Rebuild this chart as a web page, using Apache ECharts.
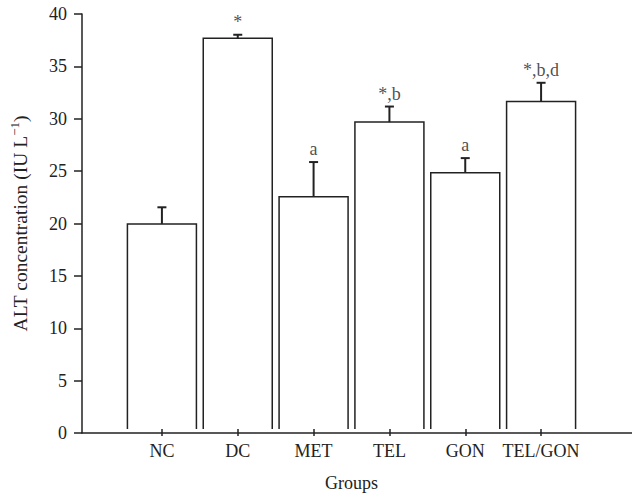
<!DOCTYPE html>
<html>
<head>
<meta charset="utf-8">
<script src="https://cdn.jsdelivr.net/npm/echarts@6/dist/echarts.min.js"></script>
<style>
html,body{margin:0;padding:0;background:#fff;}
#chart{width:632px;height:497px;}
</style>
</head>
<body>
<div id="chart"></div>
<script>
const categories = ['NC', 'DC', 'MET', 'TEL', 'GON', 'TEL/GON'];
const means = [19.77, 37.67, 22.39, 29.58, 24.71, 31.56];
const errTops = [21.37, 38.0, 25.73, 31.08, 26.11, 33.37];
const annotations = ['', '*', 'a', '*,b', 'a', '*,b,d'];
const yTicks = [0, 5, 10, 15, 20, 25, 30, 35, 40];

const FONT = '"Liberation Serif", "Times New Roman", serif';
const INK = '#222';
const FS = 18;
const BAR_W = 69;

const chart = echarts.init(document.getElementById('chart'), null, {renderer: 'svg'});

const barData = means.map((m, i) => [i, m]);
const errData = means.map((m, i) => [i, m, errTops[i]]);
const labelData = errTops.map((e, i) => [i, e]);

chart.setOption({
  animation: false,
  backgroundColor: '#fff',
  grid: [
    {left: 75, right: 0, top: 14, bottom: 64},
    {left: 124, width: 455, top: 14, bottom: 64}
  ],
  xAxis: [
    {
      gridIndex: 0, type: 'value', min: 0, max: 1,
      axisLine: {show: true, lineStyle: {color: INK, width: 1.5}},
      axisTick: {show: false}, axisLabel: {show: false}, splitLine: {show: false}
    },
    {
      gridIndex: 1, type: 'category', data: categories,
      axisLine: {show: false},
      axisTick: {show: true, alignWithLabel: true, length: 7, lineStyle: {color: INK, width: 1.5}},
      axisLabel: {interval: 0, fontFamily: FONT, fontSize: FS, color: INK, margin: 13},
      splitLine: {show: false},
      name: 'Groups', nameLocation: 'middle', nameGap: 45,
      nameTextStyle: {fontFamily: FONT, fontSize: FS, color: INK}
    }
  ],
  yAxis: [
    {
      gridIndex: 0, type: 'value', min: yTicks[0], max: yTicks[yTicks.length - 1], interval: 5,
      axisLine: {show: true, lineStyle: {color: INK, width: 1.5}},
      axisTick: {show: true, length: 8, lineStyle: {color: INK, width: 1.5}},
      axisLabel: {fontFamily: FONT, fontSize: FS, color: INK, margin: 15},
      splitLine: {show: false},
      name: '{n|ALT concentration (IU L}{s|−1}{n|)}', nameLocation: 'middle', nameGap: 52,
      nameTextStyle: {
        fontFamily: FONT, fontSize: 19.5, color: INK,
        rich: {
          n: {fontFamily: FONT, fontSize: 19.5, color: INK, lineHeight: 22, verticalAlign: 'bottom'},
          s: {fontFamily: FONT, fontSize: 13, color: INK, lineHeight: 22, verticalAlign: 'top'}
        }
      }
    },
    {
      gridIndex: 1, type: 'value', min: yTicks[0], max: yTicks[yTicks.length - 1], show: false
    }
  ],
  series: [
    {
      type: 'custom', xAxisIndex: 1, yAxisIndex: 1, data: barData, z: 3,
      renderItem: function (params, api) {
        const top = api.coord([api.value(0), api.value(1)]);
        const base = api.coord([api.value(0), 0]);
        const l = top[0] - BAR_W / 2, r = top[0] + BAR_W / 2;
        return {
          type: 'group',
          children: [
            {type: 'rect', shape: {x: l, y: top[1], width: BAR_W, height: base[1] - top[1]}, style: {fill: '#fff'}},
            {type: 'polyline', shape: {points: [[l, base[1]], [l, top[1]], [r, top[1]], [r, base[1]]]},
             style: {stroke: INK, lineWidth: 1.5, fill: null}}
          ]
        };
      }
    },
    {
      type: 'custom', xAxisIndex: 1, yAxisIndex: 1, data: errData, z: 5,
      renderItem: function (params, api) {
        const x = api.value(0);
        const p0 = api.coord([x, api.value(1)]);
        const p1 = api.coord([x, api.value(2)]);
        const hw = 4.5;
        return {
          type: 'group',
          children: [
            {type: 'line', shape: {x1: p0[0], y1: p0[1], x2: p1[0], y2: p1[1]}, style: {stroke: INK, lineWidth: 2}},
            {type: 'line', shape: {x1: p1[0] - hw, y1: p1[1], x2: p1[0] + hw, y2: p1[1]}, style: {stroke: INK, lineWidth: 2}}
          ]
        };
      }
    },
    {
      type: 'scatter', xAxisIndex: 1, yAxisIndex: 1, data: labelData, symbolSize: 0,
      silent: true,
      label: {
        show: true, position: 'top', distance: 4,
        fontFamily: FONT, fontSize: FS, color: INK,
        formatter: function (p) { return annotations[p.dataIndex]; }
      }
    }
  ]
});
</script>
</body>
</html>
